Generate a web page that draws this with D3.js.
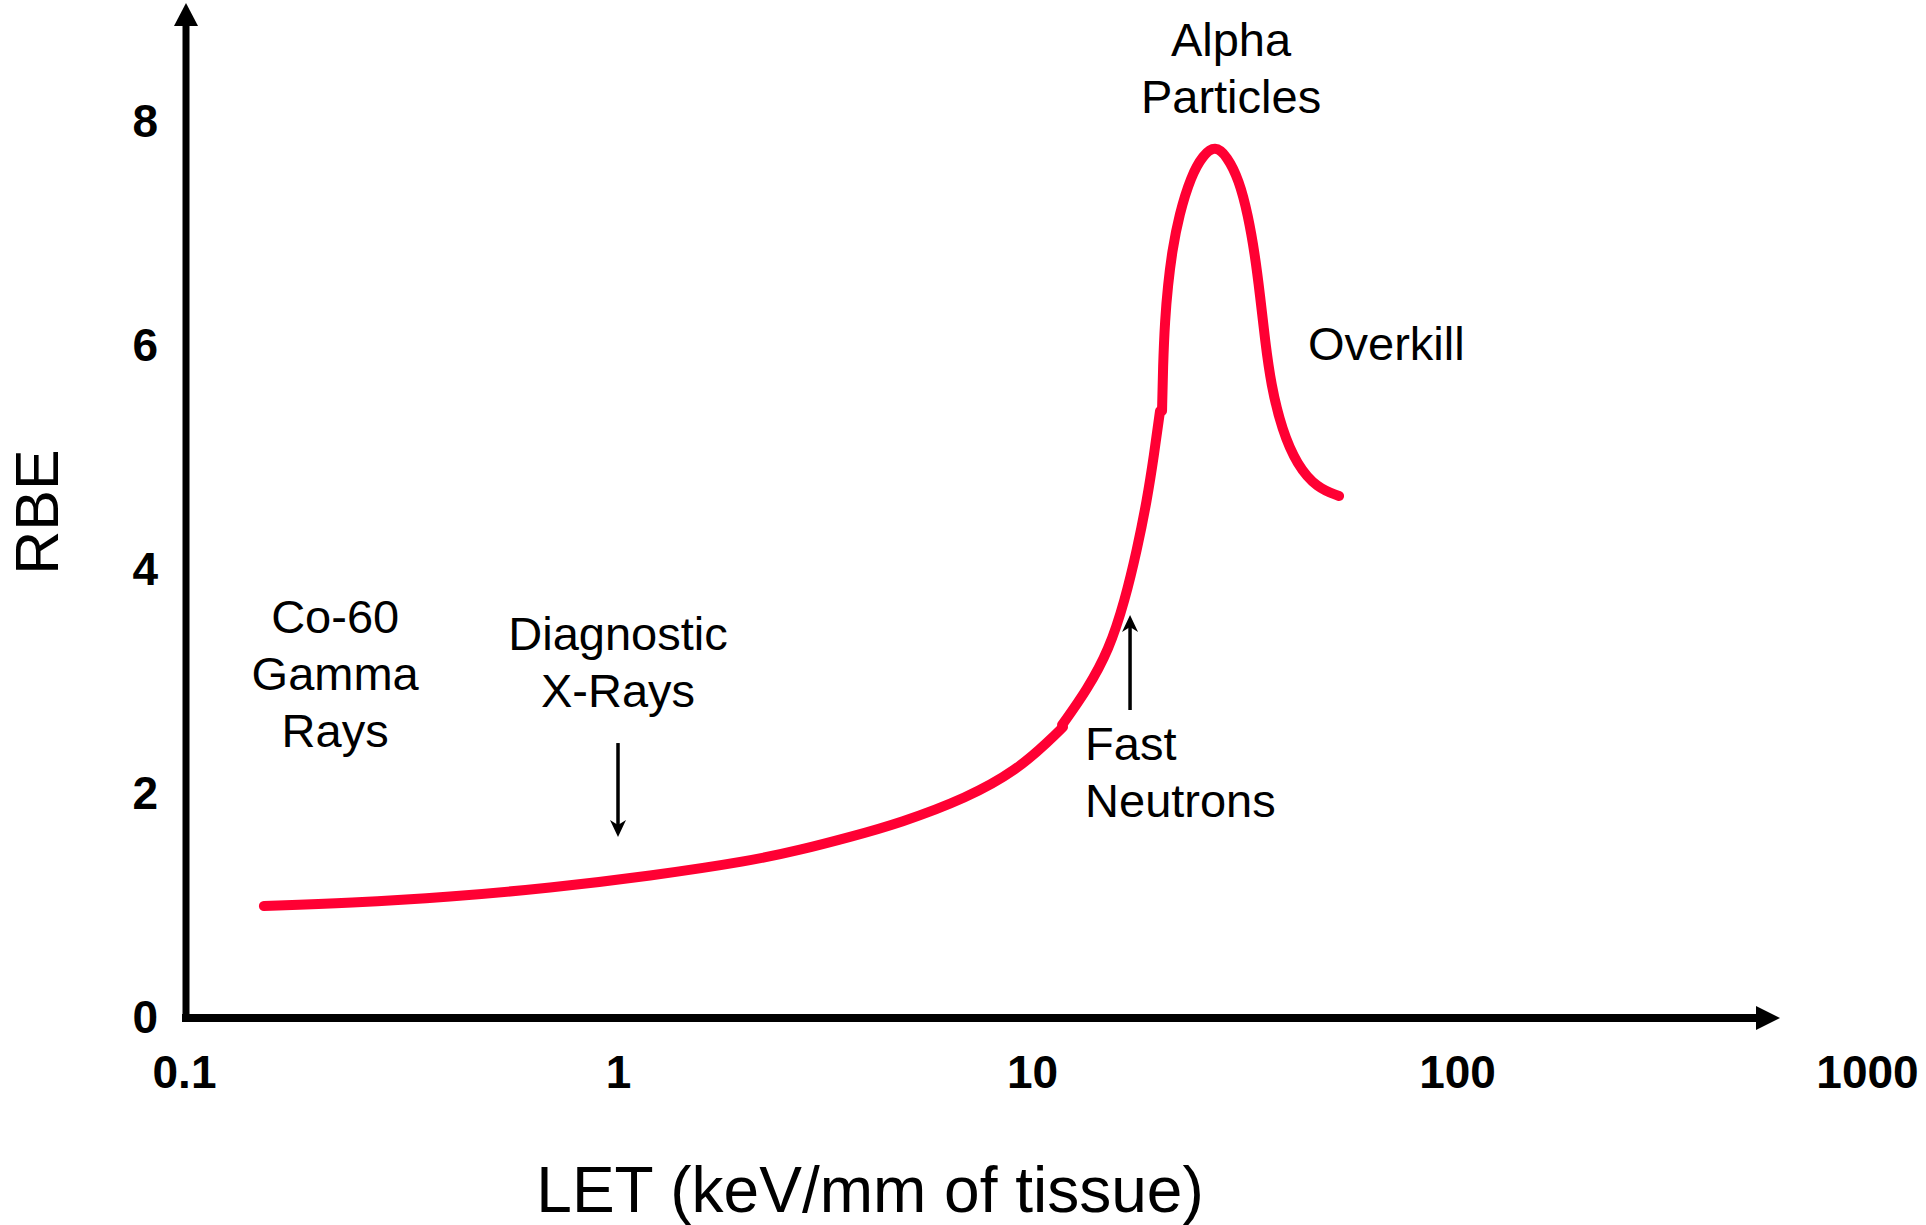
<!DOCTYPE html>
<html>
<head>
<meta charset="utf-8">
<script src="https://cdn.jsdelivr.net/npm/d3@7"></script>
<style>
body { margin: 0; background: #fff; }
svg text { font-family: "Liberation Sans", Arial, sans-serif; fill: #000; }
.tick text { font-weight: bold; font-size: 46px; }
.note { font-size: 47px; }
</style>
</head>
<body>
<svg></svg>
<script>
var width = 1926,
    height = 1225;

// axis ticks
var letTicks = [0.1, 1, 10, 100, 1000];
var letTickLabels = ["0.1", "1", "10", "100", "1000"];
var rbeTicks = [0, 2, 4, 6, 8];

// curve in three pieces (LET, RBE)
var lowLET = [0.1528, 0.2413, 0.4101, 0.6972, 1.195, 2.084, 2.752, 3.634, 4.80, 6.966, 9.20, 11.02, 11.83];
var lowRBE = [1.0, 1.027, 1.08, 1.161, 1.268, 1.402, 1.5, 1.616, 1.741, 1.964, 2.214, 2.482, 2.598];

var riseLET = [11.77, 13.47, 15.18, 16.55, 17.66, 18.65, 19.37, 20.01];
var riseRBE = [2.616, 2.929, 3.286, 3.732, 4.179, 4.625, 5.027, 5.420];

var peakLET = [20.23, 20.33, 20.55, 20.89, 21.35, 22.18, 23.67, 25.27, 26.96, 28.76, 30.70, 32.23, 33.47, 34.40, 35.34, 36.51, 38.74, 42.03, 46.84, 52.78];
var peakRBE = [5.420, 5.813, 6.232, 6.545, 6.839, 7.170, 7.518, 7.705, 7.79, 7.696, 7.482, 7.170, 6.813, 6.455, 6.054, 5.652, 5.250, 4.938, 4.732, 4.661];

// labels on the plot
var noteText = [["Co-60", "Gamma", "Rays"], ["Diagnostic", "X-Rays"], ["Fast", "Neutrons"], ["Alpha", "Particles"], ["Overkill"]];
var noteLET = [0.223, 1, 13.33, 29.4, 44.6];
var noteRBE = [3.4375, 3.286, 2.304, 8.589, 5.875];
var noteAnchor = ["middle", "middle", "start", "middle", "start"];

// pointer arrows: from -> to
var arrowLET = [1, 17.01];
var arrowFrom = [2.455, 2.75];
var arrowTo = [1.616, 3.598];

var svg = d3.select("svg")
    .attr("width", width)
    .attr("height", height);

var x = d3.scaleLog()
    .domain(letTicks)
    .range([184, 618, 1032, 1457, 1867]);

var y = d3.scaleLinear()
    .domain([0, 8])
    .range([1018, 122]);

// axes (labels only, the lines are drawn as arrows)
svg.append("g")
    .attr("transform", "translate(186,0)")
    .call(d3.axisLeft(y).tickValues(rbeTicks).tickSize(0).tickPadding(28))
    .call(g => g.select(".domain").remove());

svg.append("g")
    .attr("transform", "translate(0,1018)")
    .call(d3.axisBottom(x).tickValues(letTicks)
        .tickFormat((d, i) => letTickLabels[i])
        .tickSize(0).tickPadding(37))
    .call(g => g.select(".domain").remove());

svg.selectAll(".tick text").attr("fill", "#000");

// axis lines with arrowheads
svg.append("line")
    .attr("x1", 186).attr("y1", 1018)
    .attr("x2", 186).attr("y2", 24)
    .attr("stroke", "#000").attr("stroke-width", 7);
svg.append("path")
    .attr("d", "M174,26L198,26L186,3Z")
    .attr("fill", "#000");

svg.append("line")
    .attr("x1", 182).attr("y1", 1018)
    .attr("x2", 1758).attr("y2", 1018)
    .attr("stroke", "#000").attr("stroke-width", 8);
svg.append("path")
    .attr("d", "M1756,1006L1756,1030L1780,1018Z")
    .attr("fill", "#000");

// axis titles
svg.append("text")
    .attr("transform", "translate(58,512) rotate(-90)")
    .attr("text-anchor", "middle")
    .style("font-size", "61px")
    .text("RBE");

svg.append("text")
    .attr("x", 870)
    .attr("y", 1212)
    .attr("text-anchor", "middle")
    .style("font-size", "64px")
    .text("LET (keV/mm of tissue)");

// the curve
var line = d3.line()
    .x(d => x(d[0]))
    .y(d => y(d[1]))
    .curve(d3.curveBasis);

var pieces = [
    d3.zip(lowLET, lowRBE),
    d3.zip(riseLET, riseRBE),
    d3.zip(peakLET, peakRBE)
];

svg.selectAll("path.curve")
    .data(pieces)
    .enter().append("path")
    .attr("class", "curve")
    .attr("d", line)
    .attr("fill", "none")
    .attr("stroke", "#ff0033")
    .attr("stroke-width", 10)
    .attr("stroke-linecap", "round");

// text notes
noteText.forEach(function(lines, i) {
    var t = svg.append("text")
        .attr("class", "note")
        .attr("text-anchor", noteAnchor[i])
        .attr("x", x(noteLET[i]))
        .attr("y", y(noteRBE[i]));
    lines.forEach(function(s, j) {
        t.append("tspan")
            .attr("x", x(noteLET[i]))
            .attr("dy", j == 0 ? 0 : 57)
            .text(s);
    });
});

// pointer arrows
arrowLET.forEach(function(v, i) {
    var ax = x(v), y1 = y(arrowFrom[i]), y2 = y(arrowTo[i]);
    var dir = y2 > y1 ? 1 : -1;
    svg.append("line")
        .attr("x1", ax).attr("y1", y1)
        .attr("x2", ax).attr("y2", y2 - dir * 10)
        .attr("stroke", "#000").attr("stroke-width", 3.5);
    svg.append("path")
        .attr("d", "M" + ax + "," + y2 +
            "L" + (ax - 8) + "," + (y2 - dir * 17) +
            "L" + ax + "," + (y2 - dir * 12) +
            "L" + (ax + 8) + "," + (y2 - dir * 17) + "Z")
        .attr("fill", "#000");
});
</script>
</body>
</html>
